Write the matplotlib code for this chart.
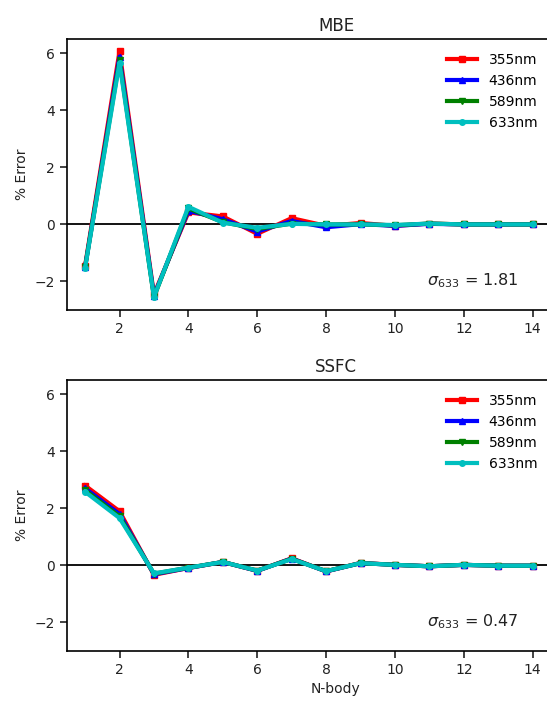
import numpy as np
import matplotlib
matplotlib.use("Agg")
import matplotlib.pyplot as plt

nbody = np.arange(1, 15)
waves = ["355nm", "436nm", "589nm", "633nm"]
colors = ["r", "b", "g", "c"]
markers = ["s", "^", "v", "o"]

# % error per N-body order, one row per wavelength
mbe = [
    [-1.45, 6.07, -2.45, 0.42, 0.28, -0.33, 0.22, -0.05, 0.05, -0.05, 0.03, 0.0, 0.0, 0.0],
    [-1.50, 5.88, -2.50, 0.48, 0.18, -0.25, 0.12, -0.10, 0.01, -0.05, 0.02, 0.0, 0.0, 0.0],
    [-1.50, 5.75, -2.55, 0.56, 0.08, -0.16, 0.03, 0.00, 0.00, -0.03, 0.03, 0.0, 0.0, 0.0],
    [-1.52, 5.66, -2.55, 0.62, 0.06, -0.12, 0.02, 0.00, 0.00, -0.02, 0.03, 0.0, 0.0, 0.0],
]
ssfc = [
    [2.80, 1.90, -0.33, -0.09, 0.12, -0.19, 0.25, -0.21, 0.09, 0.02, -0.03, 0.02, -0.01, -0.01],
    [2.70, 1.80, -0.31, -0.09, 0.12, -0.19, 0.24, -0.21, 0.08, 0.02, -0.03, 0.02, -0.01, -0.01],
    [2.64, 1.72, -0.29, -0.08, 0.12, -0.18, 0.23, -0.20, 0.08, 0.02, -0.03, 0.02, -0.01, -0.01],
    [2.58, 1.66, -0.28, -0.08, 0.12, -0.18, 0.22, -0.20, 0.08, 0.02, -0.03, 0.02, -0.01, -0.01],
]
panels = [("MBE", mbe, 1.81), ("SSFC", ssfc, 0.47)]

fig = plt.figure(figsize=(5.47, 7.01), dpi=100)
W, H = 547, 701
# axes run past the right border of the figure
boxes = [(67, 39, 538, 271), (67, 380, 538, 271)]

for (title, data, sigma), (x0, y0, w, h) in zip(panels, boxes):
    ax = fig.add_axes([x0 / W, 1 - (y0 + h) / H, w / W, h / H])
    ax.axhline(0, color="k", lw=1.3, zorder=1)
    for vals, lab, c, m in zip(data, waves, colors, markers):
        ax.plot(nbody, vals, color=c, marker=m, ms=4, lw=3, label=lab, zorder=2)
    ax.set_xlim(0.475, 16.1)
    ax.set_ylim(-3, 6.5)
    ax.set_xticks([2, 4, 6, 8, 10, 12, 14])
    ax.set_yticks([-2, 0, 2, 4, 6])
    ax.tick_params(labelsize=10, direction="out", length=5, width=1.2, colors="#222222")
    ax.set_title(title, fontsize=12, pad=6, color="#222222")
    ax.set_ylabel("% Error", fontsize=10, color="#222222")
    ax.legend(loc="upper right", frameon=False, fontsize=10, handlelength=2.2,
              bbox_to_anchor=(0.9, 1.0), borderaxespad=0.6, labelspacing=0.5)
    ax.text(0.669, 0.092, r"$\sigma_{633}$ = %.2f" % sigma, transform=ax.transAxes,
            fontsize=11.5, color="#222222")
    for s in ax.spines.values():
        s.set_linewidth(1.2)

ax.set_xlabel("N-body", fontsize=10, color="#222222")

fig.savefig("out.png", dpi=100)
